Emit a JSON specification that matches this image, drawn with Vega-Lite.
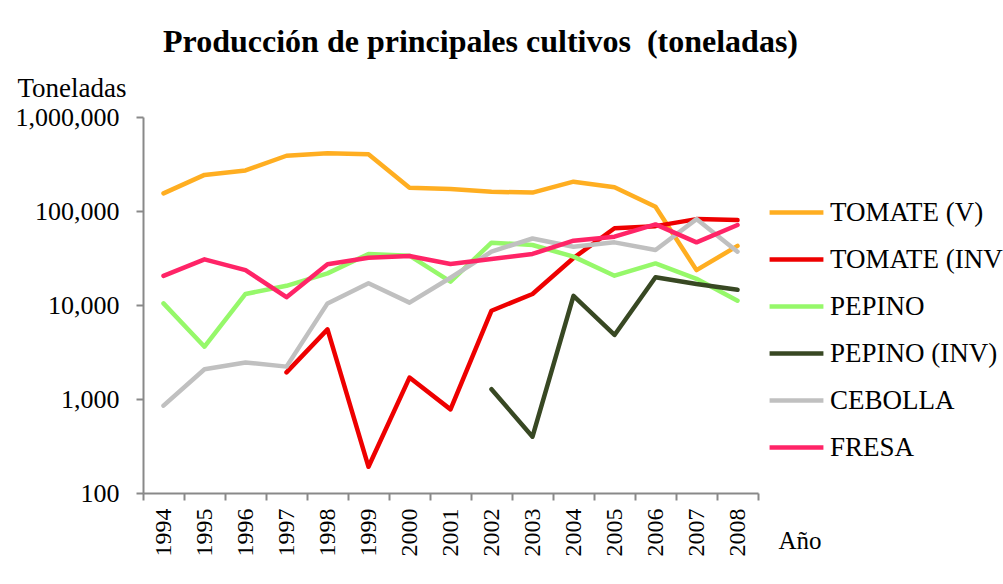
{
  "$schema": "https://vega.github.io/schema/vega-lite/v6.json",
  "width": 615,
  "height": 376,
  "autosize": "none",
  "padding": {"left": 143, "top": 117, "right": 245, "bottom": 91},
  "background": "white",
  "title": {
    "text": "Producción de principales cultivos \u00a0(toneladas)",
    "font": "Liberation Serif",
    "fontSize": 32,
    "fontWeight": "bold",
    "color": "black",
    "anchor": "middle",
    "frame": "group",
    "dx": 30,
    "offset": 15
  },
  "data": {
    "values": [
      {"year": "1994", "series": "TOMATE (V)", "value": 154000},
      {"year": "1995", "series": "TOMATE (V)", "value": 242000},
      {"year": "1996", "series": "TOMATE (V)", "value": 270000},
      {"year": "1997", "series": "TOMATE (V)", "value": 387000},
      {"year": "1998", "series": "TOMATE (V)", "value": 411000},
      {"year": "1999", "series": "TOMATE (V)", "value": 401000},
      {"year": "2000", "series": "TOMATE (V)", "value": 177000},
      {"year": "2001", "series": "TOMATE (V)", "value": 171000},
      {"year": "2002", "series": "TOMATE (V)", "value": 160000},
      {"year": "2003", "series": "TOMATE (V)", "value": 157000},
      {"year": "2004", "series": "TOMATE (V)", "value": 205000},
      {"year": "2005", "series": "TOMATE (V)", "value": 179000},
      {"year": "2006", "series": "TOMATE (V)", "value": 111000},
      {"year": "2007", "series": "TOMATE (V)", "value": 23500},
      {"year": "2008", "series": "TOMATE (V)", "value": 42500},

      {"year": "1997", "series": "TOMATE (INV)", "value": 1920},
      {"year": "1998", "series": "TOMATE (INV)", "value": 5500},
      {"year": "1999", "series": "TOMATE (INV)", "value": 190},
      {"year": "2000", "series": "TOMATE (INV)", "value": 1690},
      {"year": "2001", "series": "TOMATE (INV)", "value": 776},
      {"year": "2002", "series": "TOMATE (INV)", "value": 8690},
      {"year": "2003", "series": "TOMATE (INV)", "value": 13100},
      {"year": "2004", "series": "TOMATE (INV)", "value": 31600},
      {"year": "2005", "series": "TOMATE (INV)", "value": 65500},
      {"year": "2006", "series": "TOMATE (INV)", "value": 69000},
      {"year": "2007", "series": "TOMATE (INV)", "value": 82000},
      {"year": "2008", "series": "TOMATE (INV)", "value": 80000},

      {"year": "1994", "series": "PEPINO", "value": 10400},
      {"year": "1995", "series": "PEPINO", "value": 3600},
      {"year": "1996", "series": "PEPINO", "value": 13100},
      {"year": "1997", "series": "PEPINO", "value": 16000},
      {"year": "1998", "series": "PEPINO", "value": 21700},
      {"year": "1999", "series": "PEPINO", "value": 34900},
      {"year": "2000", "series": "PEPINO", "value": 33500},
      {"year": "2001", "series": "PEPINO", "value": 17700},
      {"year": "2002", "series": "PEPINO", "value": 46000},
      {"year": "2003", "series": "PEPINO", "value": 43500},
      {"year": "2004", "series": "PEPINO", "value": 32700},
      {"year": "2005", "series": "PEPINO", "value": 20500},
      {"year": "2006", "series": "PEPINO", "value": 27700},
      {"year": "2007", "series": "PEPINO", "value": 19000},
      {"year": "2008", "series": "PEPINO", "value": 11100},

      {"year": "2002", "series": "PEPINO (INV)", "value": 1270},
      {"year": "2003", "series": "PEPINO (INV)", "value": 397},
      {"year": "2004", "series": "PEPINO (INV)", "value": 12500},
      {"year": "2005", "series": "PEPINO (INV)", "value": 4800},
      {"year": "2006", "series": "PEPINO (INV)", "value": 19700},
      {"year": "2007", "series": "PEPINO (INV)", "value": 16700},
      {"year": "2008", "series": "PEPINO (INV)", "value": 14500},

      {"year": "1994", "series": "CEBOLLA", "value": 849},
      {"year": "1995", "series": "CEBOLLA", "value": 2070},
      {"year": "1996", "series": "CEBOLLA", "value": 2450},
      {"year": "1997", "series": "CEBOLLA", "value": 2210},
      {"year": "1998", "series": "CEBOLLA", "value": 10400},
      {"year": "1999", "series": "CEBOLLA", "value": 17000},
      {"year": "2000", "series": "CEBOLLA", "value": 10600},
      {"year": "2001", "series": "CEBOLLA", "value": 19500},
      {"year": "2002", "series": "CEBOLLA", "value": 36900},
      {"year": "2003", "series": "CEBOLLA", "value": 51000},
      {"year": "2004", "series": "CEBOLLA", "value": 41700},
      {"year": "2005", "series": "CEBOLLA", "value": 46400},
      {"year": "2006", "series": "CEBOLLA", "value": 38500},
      {"year": "2007", "series": "CEBOLLA", "value": 82000},
      {"year": "2008", "series": "CEBOLLA", "value": 36900},

      {"year": "1994", "series": "FRESA", "value": 20400},
      {"year": "1995", "series": "FRESA", "value": 30600},
      {"year": "1996", "series": "FRESA", "value": 23500},
      {"year": "1997", "series": "FRESA", "value": 12100},
      {"year": "1998", "series": "FRESA", "value": 27100},
      {"year": "1999", "series": "FRESA", "value": 31800},
      {"year": "2000", "series": "FRESA", "value": 33200},
      {"year": "2001", "series": "FRESA", "value": 27300},
      {"year": "2002", "series": "FRESA", "value": 30800},
      {"year": "2003", "series": "FRESA", "value": 34900},
      {"year": "2004", "series": "FRESA", "value": 48300},
      {"year": "2005", "series": "FRESA", "value": 53300},
      {"year": "2006", "series": "FRESA", "value": 72000},
      {"year": "2007", "series": "FRESA", "value": 46400},
      {"year": "2008", "series": "FRESA", "value": 71000}
    ]
  },
  "mark": {"type": "line", "strokeWidth": 4.5, "strokeCap": "round", "strokeJoin": "round"},
  "encoding": {
    "x": {
      "field": "year",
      "type": "ordinal",
      "scale": {"type": "band", "paddingInner": 0, "paddingOuter": 0},
      "axis": {
        "title": "Año",
        "titleAngle": 0,
        "titleX": 635,
        "titleY": 47,
        "titleAlign": "left",
        "titleBaseline": "middle",
        "titleFont": "Liberation Serif",
        "titleFontSize": 25,
        "titleFontWeight": "normal",
        "titleColor": "black",
        "labelAngle": -90,
        "labelFont": "Liberation Serif",
        "labelFontSize": 24,
        "labelColor": "black",
        "labelPadding": 8,
        "tickBand": "extent",
        "tickSize": 7,
        "tickColor": "#898989",
        "tickWidth": 2,
        "domainColor": "#898989",
        "domainWidth": 2,
        "grid": false
      }
    },
    "y": {
      "field": "value",
      "type": "quantitative",
      "scale": {"type": "log", "domain": [100, 1000000], "nice": false},
      "axis": {
        "title": "Toneladas",
        "titleAngle": 0,
        "titleX": -126,
        "titleY": -21,
        "titleAlign": "left",
        "titleBaseline": "alphabetic",
        "titleFont": "Liberation Serif",
        "titleFontSize": 27,
        "titleFontWeight": "normal",
        "titleColor": "black",
        "values": [100, 1000, 10000, 100000, 1000000],
        "format": ",d",
        "labelFont": "Liberation Serif",
        "labelFontSize": 26,
        "labelColor": "black",
        "labelPadding": 17,
        "tickSize": 7,
        "tickColor": "#898989",
        "tickWidth": 2,
        "domainColor": "#898989",
        "domainWidth": 2,
        "grid": false
      }
    },
    "color": {
      "field": "series",
      "type": "nominal",
      "scale": {
        "domain": ["TOMATE (V)", "TOMATE (INV)", "PEPINO", "PEPINO (INV)", "CEBOLLA", "FRESA"],
        "range": ["#FFAE21", "#EE0000", "#96F86A", "#384823", "#C0C0C0", "#FF2467"]
      },
      "legend": {
        "title": null,
        "orient": "none",
        "legendX": 624,
        "legendY": 66,
        "symbolType": "stroke",
        "symbolSize": 2900,
        "symbolStrokeWidth": 4.5,
        "labelFont": "Liberation Serif",
        "labelFontSize": 27,
        "labelColor": "black",
        "labelOffset": 4,
        "rowPadding": 4,
        "labelLimit": 300
      }
    }
  },
  "config": {
    "view": {"stroke": null}
  }
}
